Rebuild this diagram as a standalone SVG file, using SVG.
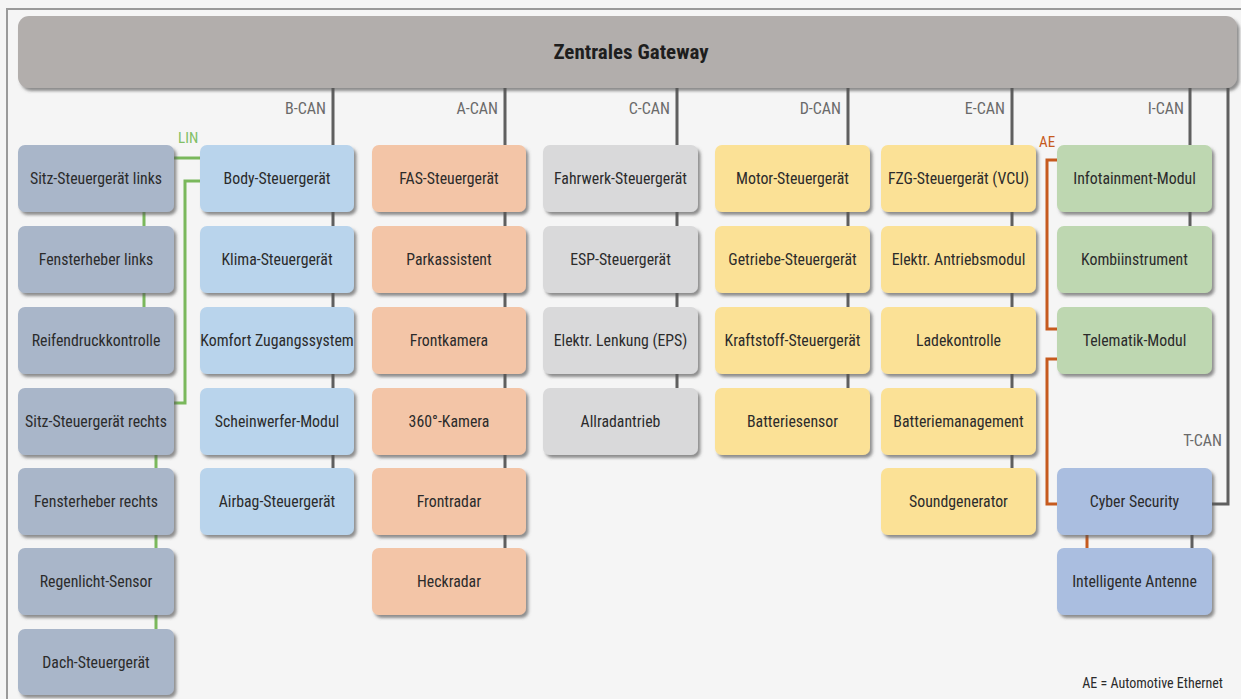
<svg xmlns="http://www.w3.org/2000/svg" width="1241" height="699" viewBox="0 0 1241 699">
<defs>
<filter id="sh" x="-10%" y="-10%" width="130%" height="140%">
<feDropShadow dx="2.5" dy="3" stdDeviation="1.5" flood-color="#555" flood-opacity="0.65"/>
</filter>
<style>
text{font-family:'Liberation Sans Narrow','Roboto Condensed','DejaVu Sans Condensed','Liberation Sans',sans-serif;}
.n rect{filter:url(#sh);}
.n text{font-size:15.8px;fill:#2b2b2b;text-anchor:middle;dominant-baseline:central;}
.sl rect{fill:#a9b6c9;}
.bl rect{fill:#b9d4ec;}
.or rect{fill:#f3c5a7;}
.gr rect{fill:#d9d9da;}
.ye rect{fill:#fbe196;}
.gn rect{fill:#bed7b1;}
.cy rect{fill:#aabee0;}
.bus{stroke:#5f5f5f;stroke-width:3;fill:none;}
.lin{stroke:#7ab85c;stroke-width:3;fill:none;}
.ae{stroke:#c65a1e;stroke-width:3;fill:none;}
.lbl{font-size:16px;fill:#6a6a6a;text-anchor:end;}
</style>
</defs>
<rect x="0" y="0" width="1241" height="699" fill="#f5f5f5"/>
<path d="M7,699 V9 H1241" fill="none" stroke="#9a9a9a" stroke-width="2"/>

<g id="connectors">
<path class="bus" d="M333,88 V145 M333,212 V226 M333,293 V307 M333,374 V388 M333,455 V468"/>
<path class="bus" d="M505,88 V145 M505,212 V226 M505,293 V307 M505,374 V388 M505,455 V468 M505,535 V548"/>
<path class="bus" d="M677,88 V145 M677,212 V226 M677,293 V307 M677,374 V388"/>
<path class="bus" d="M848,88 V145 M848,212 V226 M848,293 V307 M848,374 V388"/>
<path class="bus" d="M1012,88 V145 M1012,212 V226 M1012,293 V307 M1012,374 V388 M1012,455 V468"/>
<path class="bus" d="M1190,88 V145 M1190,212 V226"/>
<path class="bus" d="M1228,88 V504 H1212"/>
<path class="bus" d="M1192,535 V548"/>
<path class="lin" d="M174,158 H200"/>
<path class="lin" d="M200,181 H185 V403 H174"/>
<path class="lin" d="M144,212 V226 M144,293 V307 M156,455 V468 M156,535 V548 M156,615 V629"/>
<path class="ae" d="M1057,160 H1047 V329 H1057"/>
<path class="ae" d="M1057,359 H1047 V504 H1057"/>
<path class="ae" d="M1087,535 V548"/>
<text class="lbl" x="326" y="114">B-CAN</text>
<text class="lbl" x="498" y="114">A-CAN</text>
<text class="lbl" x="670" y="114">C-CAN</text>
<text class="lbl" x="841" y="114">D-CAN</text>
<text class="lbl" x="1005" y="114">E-CAN</text>
<text class="lbl" x="1184" y="114">I-CAN</text>
<text class="lbl" x="1222" y="446">T-CAN</text>
<text x="178" y="143" font-size="15" fill="#82bf66">LIN</text>
<text x="1039" y="147" font-size="15" fill="#c65a1e">AE</text>
</g>

<g id="gateway">
<rect x="18" y="16" width="1219" height="72" rx="11" fill="#b2aeac" filter="url(#sh)"/>
<text x="631" y="52" font-size="21" font-weight="bold" fill="#1e1e1e" text-anchor="middle" dominant-baseline="central">Zentrales Gateway</text>
</g>

<g id="sitz-links" class="n sl"><rect x="18" y="145" width="156" height="67" rx="7"/><text x="96" y="178.5">Sitz-Steuergerät links</text></g>
<g id="fensterheber-links" class="n sl"><rect x="18" y="226" width="156" height="67" rx="7"/><text x="96" y="259.5">Fensterheber links</text></g>
<g id="reifendruck" class="n sl"><rect x="18" y="307" width="156" height="67" rx="7"/><text x="96" y="340.5">Reifendruckkontrolle</text></g>
<g id="sitz-rechts" class="n sl"><rect x="18" y="388" width="156" height="67" rx="7"/><text x="96" y="421.5">Sitz-Steuergerät rechts</text></g>
<g id="fensterheber-rechts" class="n sl"><rect x="18" y="468" width="156" height="67" rx="7"/><text x="96" y="501.5">Fensterheber rechts</text></g>
<g id="regenlicht" class="n sl"><rect x="18" y="548" width="156" height="67" rx="7"/><text x="96" y="581.5">Regenlicht-Sensor</text></g>
<g id="dach" class="n sl"><rect x="18" y="629" width="156" height="66" rx="7"/><text x="96" y="662">Dach-Steuergerät</text></g>

<g id="body" class="n bl"><rect x="200" y="145" width="154" height="67" rx="7"/><text x="277" y="178.5">Body-Steuergerät</text></g>
<g id="klima" class="n bl"><rect x="200" y="226" width="154" height="67" rx="7"/><text x="277" y="259.5">Klima-Steuergerät</text></g>
<g id="komfort" class="n bl"><rect x="200" y="307" width="154" height="67" rx="7"/><text x="277" y="340.5">Komfort Zugangssystem</text></g>
<g id="scheinwerfer" class="n bl"><rect x="200" y="388" width="154" height="67" rx="7"/><text x="277" y="421.5">Scheinwerfer-Modul</text></g>
<g id="airbag" class="n bl"><rect x="200" y="468" width="154" height="67" rx="7"/><text x="277" y="501.5">Airbag-Steuergerät</text></g>

<g id="fas" class="n or"><rect x="372" y="145" width="154" height="67" rx="7"/><text x="449" y="178.5">FAS-Steuergerät</text></g>
<g id="parkassistent" class="n or"><rect x="372" y="226" width="154" height="67" rx="7"/><text x="449" y="259.5">Parkassistent</text></g>
<g id="frontkamera" class="n or"><rect x="372" y="307" width="154" height="67" rx="7"/><text x="449" y="340.5">Frontkamera</text></g>
<g id="kamera360" class="n or"><rect x="372" y="388" width="154" height="67" rx="7"/><text x="449" y="421.5">360°-Kamera</text></g>
<g id="frontradar" class="n or"><rect x="372" y="468" width="154" height="67" rx="7"/><text x="449" y="501.5">Frontradar</text></g>
<g id="heckradar" class="n or"><rect x="372" y="548" width="154" height="67" rx="7"/><text x="449" y="581.5">Heckradar</text></g>

<g id="fahrwerk" class="n gr"><rect x="543" y="145" width="155" height="67" rx="7"/><text x="620.5" y="178.5">Fahrwerk-Steuergerät</text></g>
<g id="esp" class="n gr"><rect x="543" y="226" width="155" height="67" rx="7"/><text x="620.5" y="259.5">ESP-Steuergerät</text></g>
<g id="eps" class="n gr"><rect x="543" y="307" width="155" height="67" rx="7"/><text x="620.5" y="340.5">Elektr. Lenkung (EPS)</text></g>
<g id="allrad" class="n gr"><rect x="543" y="388" width="155" height="67" rx="7"/><text x="620.5" y="421.5">Allradantrieb</text></g>

<g id="motor" class="n ye"><rect x="715" y="145" width="155" height="67" rx="7"/><text x="792.5" y="178.5">Motor-Steuergerät</text></g>
<g id="getriebe" class="n ye"><rect x="715" y="226" width="155" height="67" rx="7"/><text x="792.5" y="259.5">Getriebe-Steuergerät</text></g>
<g id="kraftstoff" class="n ye"><rect x="715" y="307" width="155" height="67" rx="7"/><text x="792.5" y="340.5">Kraftstoff-Steuergerät</text></g>
<g id="batteriesensor" class="n ye"><rect x="715" y="388" width="155" height="67" rx="7"/><text x="792.5" y="421.5">Batteriesensor</text></g>

<g id="vcu" class="n ye"><rect x="881" y="145" width="155" height="67" rx="7"/><text x="958.5" y="178.5">FZG-Steuergerät (VCU)</text></g>
<g id="antrieb" class="n ye"><rect x="881" y="226" width="155" height="67" rx="7"/><text x="958.5" y="259.5">Elektr. Antriebsmodul</text></g>
<g id="lade" class="n ye"><rect x="881" y="307" width="155" height="67" rx="7"/><text x="958.5" y="340.5">Ladekontrolle</text></g>
<g id="bms" class="n ye"><rect x="881" y="388" width="155" height="67" rx="7"/><text x="958.5" y="421.5">Batteriemanagement</text></g>
<g id="sound" class="n ye"><rect x="881" y="468" width="155" height="67" rx="7"/><text x="958.5" y="501.5">Soundgenerator</text></g>

<g id="infotainment" class="n gn"><rect x="1057" y="145" width="155" height="67" rx="7"/><text x="1134.5" y="178.5">Infotainment-Modul</text></g>
<g id="kombi" class="n gn"><rect x="1057" y="226" width="155" height="67" rx="7"/><text x="1134.5" y="259.5">Kombiinstrument</text></g>
<g id="telematik" class="n gn"><rect x="1057" y="307" width="155" height="67" rx="7"/><text x="1134.5" y="340.5">Telematik-Modul</text></g>

<g id="cyber" class="n cy"><rect x="1057" y="468" width="155" height="67" rx="7"/><text x="1134.5" y="501.5">Cyber Security</text></g>
<g id="antenne" class="n cy"><rect x="1057" y="548" width="155" height="67" rx="7"/><text x="1134.5" y="581.5">Intelligente Antenne</text></g>

<text x="1223" y="688" font-size="14" fill="#2b2b2b" text-anchor="end">AE = Automotive Ethernet</text>
</svg>
